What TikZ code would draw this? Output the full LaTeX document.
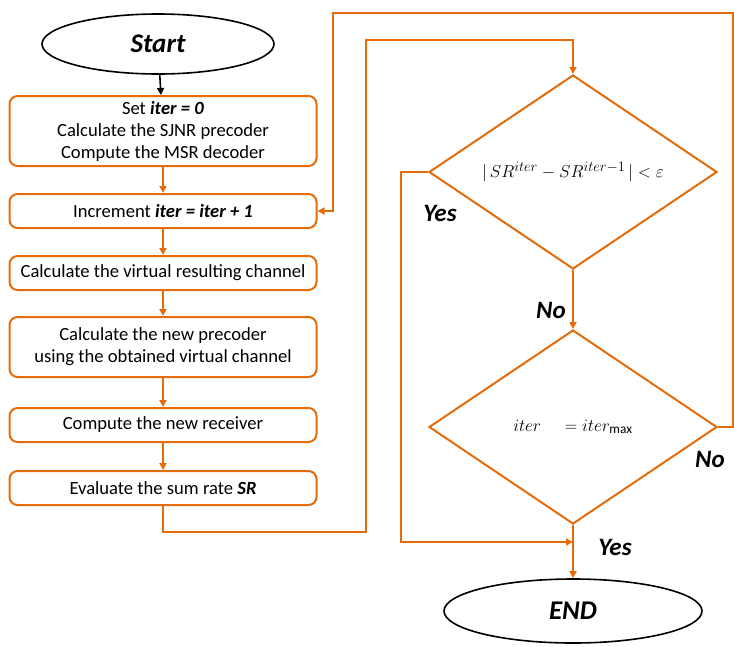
\documentclass[tikz,border=0pt]{standalone}
\usepackage{fontspec}
\setmainfont{Carlito}
\usepackage{amsmath}
\usetikzlibrary{shapes.geometric,arrows.meta}
\definecolor{flowor}{RGB}{228,108,10}

\begin{document}
\begin{tikzpicture}[x=1pt,y=-1pt,
		flow/.style={draw=flowor,line width=2pt,-{Triangle[length=7pt,width=7pt]}},
		stepbox/.style={draw=flowor,line width=2pt,rounded corners=8pt,minimum width=307pt,align=center,font=\fontsize{18.6}{22}\selectfont},
		term/.style={draw=black,line width=1.6pt,ellipse,inner sep=0pt,font=\fontsize{27}{30}\selectfont\bfseries\itshape},
		test/.style={draw=flowor,line width=2pt,diamond,shape aspect=1.48,inner sep=0pt,minimum width=288pt,minimum height=194pt,font=\fontsize{19}{23}\selectfont},
		answer/.style={font=\fontsize{25}{28}\selectfont\bfseries\itshape}]
			\useasboundingbox (0,0) rectangle (734,646);
			
			% Terminals
			\node[term,minimum width=232pt,minimum height=60pt] (start) at (158,44) {Start};
			\node[term,minimum width=258pt,minimum height=64pt] (end) at (573,611) {END};
			
			% Steps
			\node[stepbox,minimum height=70pt] (set) at (163,131) {Set \textbf{\textit{iter = 0}}\\Calculate the SJNR precoder\\Compute the MSR decoder};
			\node[stepbox,minimum height=34pt] (incr) at (163,211) {Increment \textbf{\textit{iter = iter + 1}}};
			\node[stepbox,minimum height=34pt] (virt) at (163,273) {Calculate the virtual resulting channel};
			\node[stepbox,minimum height=60pt] (prec) at (163,347) {Calculate the new precoder\\using the obtained virtual channel};
			\node[stepbox,minimum height=34pt] (recv) at (163,425) {Compute the new receiver};
			\node[stepbox,minimum height=34pt] (eval) at (163,488) {Evaluate the sum rate \textbf{\textit{SR}}};
			
			% Tests
			\node[test] (conv) at (573,172) {$|\,SR^{iter}-SR^{iter-1}\,|<\varepsilon$};
			\node[test] (maxit) at (573,427) {$iter\quad=iter_{\mathrm{max}}$};
			
			% Corners of the loops
			\coordinate (lpa) at (366,532);
			\coordinate (lpb) at (366,40);
			\coordinate (yb) at (401,542);
			\coordinate (rb) at (733,13);
			\coordinate (lb) at (333,13);
			
			% Arrows
			\draw[-{Triangle[length=7pt,width=7pt]},line width=1.6pt] (start) -- (set);
			\draw[flow] (set) -- (incr);
			\draw[flow] (incr) -- (virt);
			\draw[flow] (virt) -- (prec);
			\draw[flow] (prec) -- (recv);
			\draw[flow] (recv) -- (eval);
			\draw[flow] (eval.south) |- (lpa) -- (lpb) -| (conv.north);
			\draw[flow] (conv.south) -- (maxit.north);
			\draw[flow] (conv.west) -| (yb) -- (yb -| maxit.south);
			\draw[flow] (maxit.south) -- (end.north);
			\draw[flow] (maxit.east) -- (maxit.east -| rb) -- (rb) -- (lb) |- (incr.east);
			
			% Labels
			\node[answer] (yes1) at (440,213) {Yes};
			\node[answer] (no1) at (551,310) {No};
			\node[answer] (no2) at (710,459) {No};
			\node[answer] (yes2) at (615,547) {Yes};
		\end{tikzpicture}
\end{document}
